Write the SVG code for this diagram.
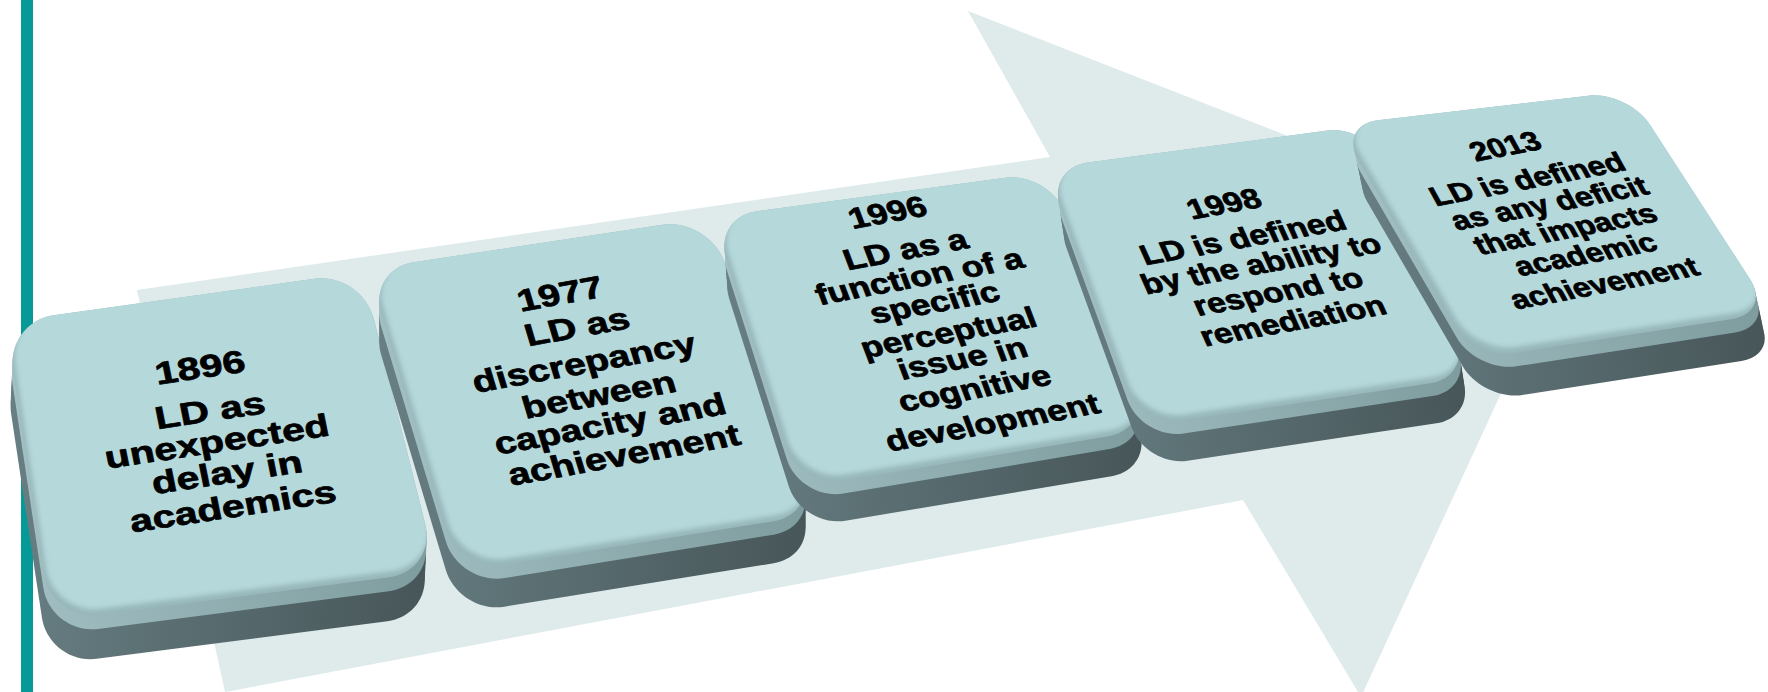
<svg xmlns="http://www.w3.org/2000/svg" xmlns:xlink="http://www.w3.org/1999/xlink" width="1768" height="692" viewBox="0 0 1768 692">
  <style>
    .base { fill: #97b7ba; }
    .face { fill: #b5d8db; }
    .t { font-family: "Liberation Sans", Arial, sans-serif; font-weight: bold; text-anchor: middle; fill: #000; stroke: #000; stroke-width: 0.7; stroke-linejoin: round; }
  </style>
  <defs>
    <linearGradient id="gDark" x1="0" y1="0" x2="1" y2="0">
      <stop offset="0" stop-color="#677e82"/>
      <stop offset="1" stop-color="#475659"/>
    </linearGradient>
    <linearGradient id="gMid" x1="0" y1="0" x2="1" y2="0">
      <stop offset="0" stop-color="#a2c0c3"/>
      <stop offset="1" stop-color="#7f9c9f"/>
    </linearGradient>
    <filter id="soft" x="-10%" y="-10%" width="120%" height="120%">
      <feGaussianBlur stdDeviation="2.5"/>
    </filter>
    <!-- top faces of the five tiles, drawn in perspective -->
    <path id="f1" d="M53.5,315.3 L314.5,278.7 C340.7,275.0 367.2,292.9 373.7,318.6 L425.3,524.4 C431.8,550.1 415.7,573.8 389.4,577.2 L98.6,614.8 C72.3,618.2 47.8,599.7 43.9,573.5 L13.1,369.5 C9.2,343.3 27.3,319.0 53.5,315.3 Z"/>
    <path id="f2" d="M413.5,262.2 L662.5,224.8 C687.6,221.0 715.3,237.3 724.2,261.1 L802.8,470.9 C811.7,494.7 798.7,517.3 773.6,521.3 L504.4,564.7 C479.3,568.7 453.1,552.2 445.8,527.9 L381.2,313.1 C373.9,288.8 388.4,266.0 413.5,262.2 Z"/>
    <path id="f3" d="M756.6,211.2 L1005.4,177.8 C1029.5,174.6 1056.4,190.3 1065.4,212.8 L1135.6,388.2 C1144.6,410.7 1132.6,432.3 1108.6,436.3 L842.4,480.7 C818.4,484.7 793.0,469.2 785.7,446.1 L726.3,258.9 C719.0,235.8 732.5,214.4 756.6,211.2 Z"/>
    <path id="f4" d="M1087.6,162.5 L1327.4,130.5 C1350.4,127.4 1376.1,142.4 1384.9,163.9 L1456.1,338.1 C1464.9,359.6 1453.4,379.8 1430.5,383.3 L1181.5,420.7 C1158.6,424.2 1133.6,409.3 1125.7,387.5 L1060.3,207.5 C1052.4,185.7 1064.6,165.6 1087.6,162.5 Z"/>
    <path id="f5" d="M1377.7,120.3 L1588.3,95.7 C1610.2,93.1 1637.8,106.1 1649.8,124.6 L1750.2,279.4 C1762.2,297.9 1754.3,315.7 1732.5,319.1 L1513.5,352.9 C1491.7,356.3 1465.0,343.5 1453.9,324.4 L1358.1,159.6 C1347.0,140.5 1355.8,122.9 1377.7,120.3 Z"/>
    <clipPath id="c1"><use href="#f1"/></clipPath>
    <clipPath id="c2"><use href="#f2"/></clipPath>
    <clipPath id="c3"><use href="#f3"/></clipPath>
    <clipPath id="c4"><use href="#f4"/></clipPath>
    <clipPath id="c5"><use href="#f5"/></clipPath>
  </defs>

  <rect width="1768" height="692" fill="#ffffff"/>

  <!-- vertical accent bar -->
  <rect id="accent-bar" x="21" y="0" width="12" height="692" fill="#059a97"/>

  <!-- large background arrow -->
  <g id="connectors">
    <polygon id="timeline-arrow" points="137,290 1050,157 968,11 1569,246 1361,697 1243,500 225,692" fill="#dfebeb"/>
  </g>

  <!-- tile 1 -->
  <g id="node-1896">
    <use href="#f1" fill="url(#gDark)" transform="translate(-2,44)"/>
    <use href="#f1" fill="url(#gDark)" transform="translate(-1.8,38.7)"/>
    <use href="#f1" fill="url(#gDark)" transform="translate(-1.5,33.4)"/>
    <use href="#f1" fill="url(#gDark)" transform="translate(-1.3,28.2)"/>
    <use href="#f1" fill="url(#gDark)" transform="translate(-1,22.9)"/>
    <use href="#f1" fill="url(#gDark)" transform="translate(-0.8,18.5)"/>
    <use href="#f1" fill="url(#gMid)" transform="translate(-0.6,14.1)"/>
    <use href="#f1" fill="url(#gMid)" transform="translate(-0.4,9.7)"/>
    <use href="#f1" fill="url(#gMid)" transform="translate(-0.2,5.3)"/>
    <use href="#f1" fill="url(#gMid)" transform="translate(-0.1,1.8)"/>
    <use href="#f1" class="base"/>
    <g clip-path="url(#c1)">
      <use href="#f1" class="face" filter="url(#soft)" transform="translate(2,-6)"/>
    </g>
    <g font-size="31">
      <text class="t" transform="matrix(1.3,-0.195,0.2,1,202,378)">1896</text>
      <text class="t" transform="matrix(1.3,-0.195,0.2,1,212,421)">LD as</text>
      <text class="t" transform="matrix(1.3,-0.195,0.2,1,219,452)">unexpected</text>
      <text class="t" transform="matrix(1.3,-0.195,0.2,1,229,483)">delay in</text>
      <text class="t" transform="matrix(1.3,-0.195,0.2,1,235,517)">academics</text>
    </g>
  </g>

  <!-- tile 2 -->
  <g id="node-1977">
    <use href="#f2" fill="url(#gDark)" transform="translate(0,42)"/>
    <use href="#f2" fill="url(#gDark)" transform="translate(0,37)"/>
    <use href="#f2" fill="url(#gDark)" transform="translate(0,31.9)"/>
    <use href="#f2" fill="url(#gDark)" transform="translate(0,26.9)"/>
    <use href="#f2" fill="url(#gDark)" transform="translate(0,21.8)"/>
    <use href="#f2" fill="url(#gDark)" transform="translate(0,17.6)"/>
    <use href="#f2" fill="url(#gMid)" transform="translate(0,13.4)"/>
    <use href="#f2" fill="url(#gMid)" transform="translate(0,9.2)"/>
    <use href="#f2" fill="url(#gMid)" transform="translate(0,5)"/>
    <use href="#f2" fill="url(#gMid)" transform="translate(0,1.7)"/>
    <use href="#f2" class="base"/>
    <g clip-path="url(#c2)">
      <use href="#f2" class="face" filter="url(#soft)" transform="translate(2,-6)"/>
    </g>
    <g font-size="30">
      <text class="t" transform="matrix(1.27,-0.229,0.3,1,563,304)">1977</text>
      <text class="t" transform="matrix(1.27,-0.229,0.3,1,580,337)">LD as</text>
      <text class="t" transform="matrix(1.27,-0.229,0.3,1,587,373)">discrepancy</text>
      <text class="t" transform="matrix(1.27,-0.229,0.3,1,602,405)">between</text>
      <text class="t" transform="matrix(1.27,-0.229,0.3,1,613,434)">capacity and</text>
      <text class="t" transform="matrix(1.27,-0.229,0.3,1,627,465)">achievement</text>
    </g>
  </g>

  <!-- tile 3 -->
  <g id="node-1996">
    <use href="#f3" fill="url(#gDark)" transform="translate(3,40)"/>
    <use href="#f3" fill="url(#gDark)" transform="translate(2.6,35.2)"/>
    <use href="#f3" fill="url(#gDark)" transform="translate(2.3,30.4)"/>
    <use href="#f3" fill="url(#gDark)" transform="translate(1.9,25.6)"/>
    <use href="#f3" fill="url(#gDark)" transform="translate(1.6,20.8)"/>
    <use href="#f3" fill="url(#gDark)" transform="translate(1.3,16.8)"/>
    <use href="#f3" fill="url(#gMid)" transform="translate(1,12.8)"/>
    <use href="#f3" fill="url(#gMid)" transform="translate(0.7,8.8)"/>
    <use href="#f3" fill="url(#gMid)" transform="translate(0.4,4.8)"/>
    <use href="#f3" fill="url(#gMid)" transform="translate(0.1,1.6)"/>
    <use href="#f3" class="base"/>
    <g clip-path="url(#c3)">
      <use href="#f3" class="face" filter="url(#soft)" transform="translate(2,-6)"/>
    </g>
    <g font-size="28">
      <text class="t" transform="matrix(1.23,-0.228,0.38,1,891,222)">1996</text>
      <text class="t" transform="matrix(1.23,-0.228,0.38,1,909,259)">LD as a</text>
      <text class="t" transform="matrix(1.23,-0.228,0.38,1,923,286)">function of a</text>
      <text class="t" transform="matrix(1.23,-0.228,0.38,1,938,312)">specific</text>
      <text class="t" transform="matrix(1.23,-0.228,0.38,1,952,342)">perceptual</text>
      <text class="t" transform="matrix(1.23,-0.228,0.38,1,966,368)">issue in</text>
      <text class="t" transform="matrix(1.23,-0.228,0.38,1,978,398)">cognitive</text>
      <text class="t" transform="matrix(1.23,-0.228,0.38,1,996,432)">development</text>
    </g>
  </g>

  <!-- tile 4 -->
  <g id="node-1998">
    <use href="#f4" fill="url(#gDark)" transform="translate(6,40)"/>
    <use href="#f4" fill="url(#gDark)" transform="translate(5.3,35.2)"/>
    <use href="#f4" fill="url(#gDark)" transform="translate(4.6,30.4)"/>
    <use href="#f4" fill="url(#gDark)" transform="translate(3.8,25.6)"/>
    <use href="#f4" fill="url(#gDark)" transform="translate(3.1,20.8)"/>
    <use href="#f4" fill="url(#gDark)" transform="translate(2.5,16.8)"/>
    <use href="#f4" fill="url(#gMid)" transform="translate(1.9,12.8)"/>
    <use href="#f4" fill="url(#gMid)" transform="translate(1.3,8.8)"/>
    <use href="#f4" fill="url(#gMid)" transform="translate(0.7,4.8)"/>
    <use href="#f4" fill="url(#gMid)" transform="translate(0.2,1.6)"/>
    <use href="#f4" class="base"/>
    <g clip-path="url(#c4)">
      <use href="#f4" class="face" filter="url(#soft)" transform="translate(2,-6)"/>
    </g>
    <g font-size="27">
      <text class="t" transform="matrix(1.2,-0.216,0.45,1,1228,213)">1998</text>
      <text class="t" transform="matrix(1.2,-0.216,0.45,1,1247,247)">LD is defined</text>
      <text class="t" transform="matrix(1.2,-0.216,0.45,1,1265,273)">by the ability to</text>
      <text class="t" transform="matrix(1.2,-0.216,0.45,1,1282,301)">respond to</text>
      <text class="t" transform="matrix(1.2,-0.216,0.45,1,1297,330)">remediation</text>
    </g>
  </g>

  <!-- tile 5 -->
  <g id="node-2013">
    <use href="#f5" fill="url(#gDark)" transform="translate(9,42)"/>
    <use href="#f5" fill="url(#gDark)" transform="translate(7.9,37)"/>
    <use href="#f5" fill="url(#gDark)" transform="translate(6.8,31.9)"/>
    <use href="#f5" fill="url(#gDark)" transform="translate(5.8,26.9)"/>
    <use href="#f5" fill="url(#gDark)" transform="translate(4.7,21.8)"/>
    <use href="#f5" fill="url(#gDark)" transform="translate(3.8,17.6)"/>
    <use href="#f5" fill="url(#gMid)" transform="translate(2.9,13.4)"/>
    <use href="#f5" fill="url(#gMid)" transform="translate(2,9.2)"/>
    <use href="#f5" fill="url(#gMid)" transform="translate(1.1,5)"/>
    <use href="#f5" fill="url(#gMid)" transform="translate(0.4,1.7)"/>
    <use href="#f5" class="base"/>
    <g clip-path="url(#c5)">
      <use href="#f5" class="face" filter="url(#soft)" transform="translate(2,-6)"/>
    </g>
    <g font-size="25.5">
      <text class="t" transform="matrix(1.2,-0.228,0.55,1,1510,155)">2013</text>
      <text class="t" transform="matrix(1.2,-0.228,0.55,1,1532,188)">LD is defined</text>
      <text class="t" transform="matrix(1.2,-0.228,0.55,1,1554,212)">as any deficit</text>
      <text class="t" transform="matrix(1.2,-0.228,0.55,1,1570,238)">that impacts</text>
      <text class="t" transform="matrix(1.2,-0.228,0.55,1,1590,263)">academic</text>
      <text class="t" transform="matrix(1.2,-0.228,0.55,1,1609,292)">achievement</text>
    </g>
  </g>
</svg>
